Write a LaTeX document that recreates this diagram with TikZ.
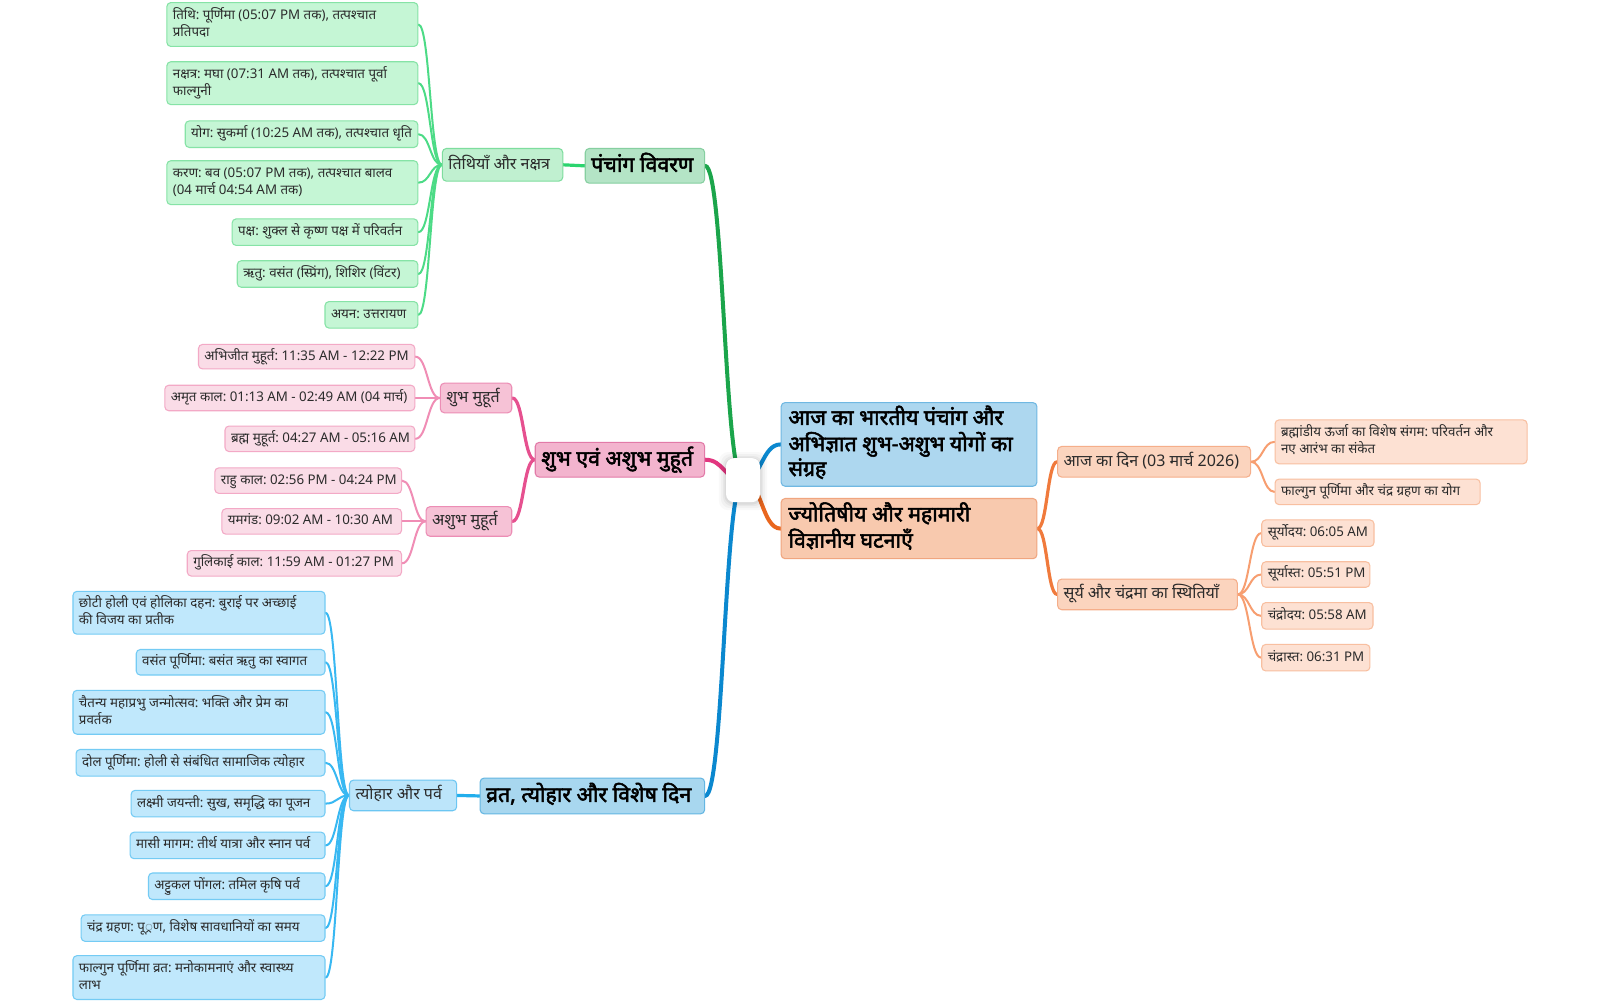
\documentclass[tikz,border=0pt]{standalone}
\usepackage{fontspec}
\setmainfont{Noto Sans}[Script=Devanagari]
\newfontfamily\heavy{Noto Sans}[Script=Devanagari, FakeBold=2.4]
\frenchspacing
\usetikzlibrary{calc}
\pgfdeclarelayer{bg}
\pgfsetlayers{bg,main}
\definecolor{gMainL}{HTML}{1BA54B}\definecolor{gMainF}{HTML}{B4E4C6}\definecolor{gMainD}{HTML}{86CFA0}
\definecolor{gSubL}{HTML}{2BD46E}\definecolor{gSubF}{HTML}{C0F0D0}\definecolor{gSubD}{HTML}{7EDD9E}
\definecolor{gLeafL}{HTML}{4CDB86}\definecolor{gLeafF}{HTML}{C5F6D5}\definecolor{gLeafD}{HTML}{86E3A6}
\definecolor{pMainL}{HTML}{E2367F}\definecolor{pMainF}{HTML}{F3B4CE}\definecolor{pMainD}{HTML}{E27AA8}
\definecolor{pSubL}{HTML}{E6508F}\definecolor{pSubF}{HTML}{F6C2D6}\definecolor{pSubD}{HTML}{EC8DB5}
\definecolor{pLeafL}{HTML}{F08DB5}\definecolor{pLeafF}{HTML}{FADCE7}\definecolor{pLeafD}{HTML}{F3A9C6}
\definecolor{bMainL}{HTML}{0B88CF}\definecolor{bMainF}{HTML}{A8D7EF}\definecolor{bMainD}{HTML}{64B6E2}
\definecolor{bSubL}{HTML}{22AEEC}\definecolor{bSubF}{HTML}{BCE5FA}\definecolor{bSubD}{HTML}{6CC6F2}
\definecolor{bLeafL}{HTML}{38B8F2}\definecolor{bLeafF}{HTML}{C0E8FC}\definecolor{bLeafD}{HTML}{74CBF4}
\definecolor{tF}{HTML}{ADD7EF}\definecolor{tD}{HTML}{70B8E2}
\definecolor{oMainL}{HTML}{E9661E}\definecolor{oMainF}{HTML}{F8C9AE}\definecolor{oMainD}{HTML}{F0A57F}
\definecolor{oSubL}{HTML}{F07A3C}\definecolor{oSubF}{HTML}{FBD4BE}\definecolor{oSubD}{HTML}{F5AE8A}
\definecolor{oLeafL}{HTML}{F79E70}\definecolor{oLeafF}{HTML}{FDE1D3}\definecolor{oLeafD}{HTML}{F8BFA0}
\definecolor{txt}{HTML}{2B2B2B}
\newcommand\bnode[7]{%
  \pgfmathsetlengthmacro\bw{(#5-#3)*0.7653pt}%
  \pgfmathsetlengthmacro\bh{(#6-#4)*0.7653pt}%
  \pgfmathsetlengthmacro\tw{(#5-#3)*0.7653pt-9pt}%
  \node[#2, minimum width=\bw, minimum height=\bh, anchor=north west] (#1) at (#3,#4)
    {\makebox[\tw][l]{\begin{tabular}{@{}l@{}}#7\end{tabular}}};}
\newcommand\conn[3]{%
  \begin{pgfonlayer}{bg}
  \draw[#1] let \p1=(#2), \p2=(#3) in (\p1) .. controls ({(\x1+\x2)/2},\y1) and ({(\x1+\x2)/2},\y2) .. (\p2);
  \end{pgfonlayer}}
\tikzset{
  x=0.7653pt, y=-0.7653pt,
  box/.style={rounded corners=3pt, line width=0.8pt, inner xsep=4.5pt, inner ysep=0pt, text=txt},
  leaf/.style={box, font=\fontsize{10}{12.8}\selectfont},
  sub/.style={box, font=\fontsize{12}{14}\selectfont},
  mainb/.style={box, font=\heavy\fontsize{16}{18}\selectfont, text=black},
  topb/.style={box, font=\heavy\fontsize{16}{18}\selectfont, text=black, inner xsep=5.5pt},
  gleaf/.style={leaf, fill=gLeafF, draw=gLeafD}, gsub/.style={sub, fill=gSubF, draw=gSubD}, gmain/.style={mainb, fill=gMainF, draw=gMainD},
  pleaf/.style={leaf, fill=pLeafF, draw=pLeafD}, psub/.style={sub, fill=pSubF, draw=pSubD}, pmain/.style={mainb, fill=pMainF, draw=pMainD},
  bleaf/.style={leaf, fill=bLeafF, draw=bLeafD}, bsub/.style={sub, fill=bSubF, draw=bSubD}, bmain/.style={mainb, fill=bMainF, draw=bMainD},
  oleaf/.style={leaf, fill=oLeafF, draw=oLeafD}, osub/.style={sub, fill=oSubF, draw=oSubD}, omain/.style={topb, fill=oMainF, draw=oMainD},
  tmain/.style={topb, fill=tF, draw=tD},
  ml/.style={line width=3pt, line cap=round},
  sl/.style={line width=2.4pt, line cap=round},
  ll/.style={line width=1.5pt, line cap=round},
}
\begin{document}
\begin{tikzpicture}
\begin{pgfonlayer}{bg}
\fill[white] (0,0) rectangle (1568,982);
\end{pgfonlayer}
\useasboundingbox (0,0) rectangle (1568,982);
% centre
\foreach \i/\o in {7/0.025,5/0.03,3/0.04,1.5/0.05}
  \fill[black, opacity=\o, rounded corners=7pt] (711.5-\i,449-\i+1) rectangle (744.8+\i,492+\i+1);
\node[fill=white, rounded corners=6pt, minimum width=25.5pt, minimum height=33pt, inner sep=0pt] (c) at (728.15,470.5) {};
% green
\bnode{gm}{gmain}{573}{145}{690}{179}{पंचांग विवरण}
\bnode{gs}{gsub}{433}{145}{551}{177}{तिथियाँ और नक्षत्र}
\bnode{gl1}{gleaf}{163}{2}{409}{45}{तिथि: पूर्णिमा (05:07 PM तक), तत्पश्चात\\प्रतिपदा}
\bnode{gl2}{gleaf}{163}{60}{409}{102}{नक्षत्र: मघा (07:31 AM तक), तत्पश्चात पूर्वा\\फाल्गुनी}
\bnode{gl3}{gleaf}{181}{118}{409}{144}{योग: सुकर्मा (10:25 AM तक), तत्पश्चात धृति}
\bnode{gl4}{gleaf}{163}{157}{409}{200}{करण: बव (05:07 PM तक), तत्पश्चात बालव\\(04 मार्च 04:54 AM तक)}
\bnode{gl5}{gleaf}{227}{214}{409}{240}{पक्ष: शुक्ल से कृष्ण पक्ष में परिवर्तन}
\bnode{gl6}{gleaf}{232}{255}{409}{281}{ऋतु: वसंत (स्प्रिंग), शिशिर (विंटर)}
\bnode{gl7}{gleaf}{318}{295}{409}{321}{अयन: उत्तरायण}
% pink
\bnode{pm}{pmain}{524}{433}{690}{467}{शुभ एवं अशुभ मुहूर्त}
\bnode{ps1}{psub}{431}{375}{501}{404}{शुभ मुहूर्त}
\bnode{ps2}{psub}{417}{496}{501}{525}{अशुभ मुहूर्त}
\bnode{pl1}{pleaf}{194}{337}{406}{361}{अभिजीत मुहूर्त: 11:35 AM - 12:22 PM}
\bnode{pl2}{pleaf}{161}{377}{406}{402}{अमृत काल: 01:13 AM - 02:49 AM (04 मार्च)}
\bnode{pl3}{pleaf}{220}{417}{406}{442}{ब्रह्म मुहूर्त: 04:27 AM - 05:16 AM}
\bnode{pl4}{pleaf}{210}{458}{393}{483}{राहु काल: 02:56 PM - 04:24 PM}
\bnode{pl5}{pleaf}{217}{498}{393}{523}{यमगंड: 09:02 AM - 10:30 AM}
\bnode{pl6}{pleaf}{183}{539}{393}{564}{गुलिकाई काल: 11:59 AM - 01:27 PM}
% blue
\bnode{bm}{bmain}{470}{762}{690}{797}{व्रत, त्योहार और विशेष दिन}
\bnode{bs}{bsub}{342}{764}{447}{794}{त्योहार और पर्व}
\bnode{bl1}{bleaf}{71}{579}{318}{621}{छोटी होली एवं होलिका दहन: बुराई पर अच्छाई\\की विजय का प्रतीक}
\bnode{bl2}{bleaf}{133}{636}{318}{661}{वसंत पूर्णिमा: बसंत ऋतु का स्वागत}
\bnode{bl3}{bleaf}{71}{676}{318}{719}{चैतन्य महाप्रभु जन्मोत्सव: भक्ति और प्रेम का\\प्रवर्तक}
\bnode{bl4}{bleaf}{74}{734}{318}{760}{दोल पूर्णिमा: होली से संबंधित सामाजिक त्योहार}
\bnode{bl5}{bleaf}{128}{774}{318}{800}{लक्ष्मी जयन्ती: सुख, समृद्धि का पूजन}
\bnode{bl6}{bleaf}{127}{815}{318}{841}{मासी मागम: तीर्थ यात्रा और स्नान पर्व}
\bnode{bl7}{bleaf}{145}{855}{318}{881}{अट्टुकल पोंगल: तमिल कृषि पर्व}
\bnode{bl8}{bleaf}{79}{896}{318}{922}{चंद्र ग्रहण: पू◌्रण, विशेष सावधानियों का समय}
\bnode{bl9}{bleaf}{71}{936}{318}{979}{फाल्गुन पूर्णिमा व्रत: मनोकामनाएं और स्वास्थ्य\\लाभ}
% right
\bnode{tr}{tmain}{765}{394}{1013}{476}{आज का भारतीय पंचांग और\\अभिज्ञात शुभ-अशुभ योगों का\\संग्रह}
\bnode{om}{omain}{765}{488}{1013}{547}{ज्योतिषीय और महामारी\\विज्ञानीय घटनाएँ}
\bnode{os1}{osub}{1036}{437}{1225}{467}{आज का दिन (03 मार्च 2026)}
\bnode{os2}{osub}{1036}{567}{1212}{597}{सूर्य और चंद्रमा का स्थितियाँ}
\bnode{ol1}{oleaf}{1249}{411}{1496}{454}{ब्रह्मांडीय ऊर्जा का विशेष संगम: परिवर्तन और\\नए आरंभ का संकेत}
\bnode{ol2}{oleaf}{1249}{469}{1450}{494}{फाल्गुन पूर्णिमा और चंद्र ग्रहण का योग}
\bnode{ol3}{oleaf}{1236}{509}{1346}{535}{सूर्योदय: 06:05 AM}
\bnode{ol4}{oleaf}{1236}{550}{1342}{575}{सूर्यास्त: 05:51 PM}
\bnode{ol5}{oleaf}{1236}{590}{1345}{616}{चंद्रोदय: 05:58 AM}
\bnode{ol6}{oleaf}{1236}{631}{1342}{657}{चंद्रास्त: 06:31 PM}
% connectors
\conn{ml, gMainL}{c.center}{gm.east}
\conn{ml, pMainL}{c.center}{pm.east}
\conn{ml, bMainL}{c.center}{bm.east}
\conn{ml, bMainL}{c.center}{tr.west}
\conn{ml, oMainL}{c.center}{om.west}
\conn{sl, gSubL}{gm.west}{gs.east}
\foreach \k in {1,...,7} {\conn{ll, gLeafL}{gs.west}{gl\k.east}}
\conn{sl, pSubL}{pm.west}{ps1.east}
\conn{sl, pSubL}{pm.west}{ps2.east}
\foreach \k in {1,2,3} {\conn{ll, pLeafL}{ps1.west}{pl\k.east}}
\foreach \k in {4,5,6} {\conn{ll, pLeafL}{ps2.west}{pl\k.east}}
\conn{sl, bSubL}{bm.west}{bs.east}
\foreach \k in {1,...,9} {\conn{ll, bLeafL}{bs.west}{bl\k.east}}
\conn{sl, oSubL}{om.east}{os1.west}
\conn{sl, oSubL}{om.east}{os2.west}
\foreach \k in {1,2} {\conn{ll, oLeafL}{os1.east}{ol\k.west}}
\foreach \k in {3,...,6} {\conn{ll, oLeafL}{os2.east}{ol\k.west}}
\end{tikzpicture}
\end{document}
